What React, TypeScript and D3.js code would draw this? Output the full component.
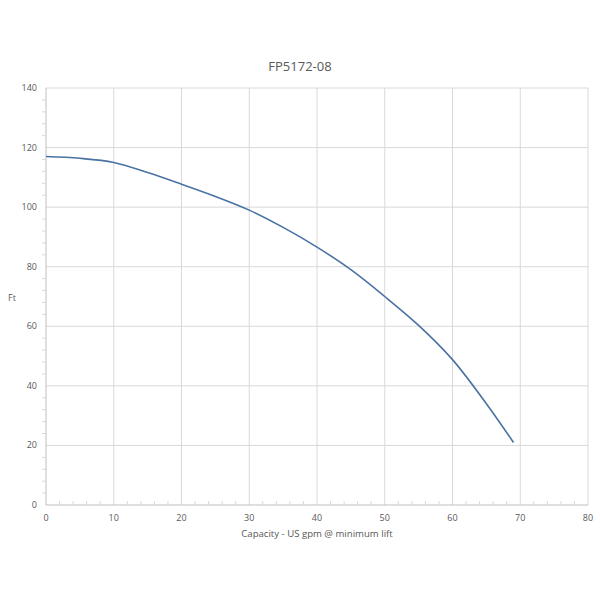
import React from "react";
import * as d3 from "d3";

const capacity = [0, 5, 10, 15, 20, 25, 30, 35, 40, 45, 50, 55, 60, 65, 69];
const head = [117, 116.4, 115, 111.6, 107.7, 103.6, 99, 93.2, 86.6, 79, 70, 60.3, 48.8, 34, 21];
const xTicks = [0, 10, 20, 30, 40, 50, 60, 70, 80];
const yTicks = [0, 20, 40, 60, 80, 100, 120, 140];
const title = "FP5172-08";
const xLabel = "Capacity - US gpm @ minimum lift";
const yLabel = "Ft";

export default function App() {
  const W = 600, H = 600;
  const x = d3.scaleLinear().domain([0, 80]).range([46, 588]);
  const y = d3.scaleLinear().domain([0, 140]).range([505, 88]);
  const pts: [number, number][] = capacity.map((c, i) => [c, head[i]]);
  const line = d3.line<[number, number]>().x(d => x(d[0])).y(d => y(d[1])).curve(d3.curveCatmullRom.alpha(0.5));
  const xMinor = d3.range(0, 80.01, 2).filter(v => v % 10 !== 0);
  const yMinor = d3.range(0, 140.01, 4).filter(v => v % 20 !== 0);
  const font = "'Open Sans', 'Noto Sans', sans-serif";
  return (
    <svg width={W} height={H} style={{ position: "absolute", left: 0, top: 0, background: "#fff" }} fontFamily={font}>
      <rect x={0} y={0} width={W} height={H} fill="#fff" />
      {xTicks.slice(1).map(t => (
        <line key={"gx" + t} x1={x(t)} x2={x(t)} y1={y(0)} y2={y(140)} stroke="#d9d9d9" strokeWidth={1} />
      ))}
      {yTicks.slice(1).map(t => (
        <line key={"gy" + t} x1={x(0)} x2={x(80)} y1={y(t)} y2={y(t)} stroke="#d9d9d9" strokeWidth={1} />
      ))}
      <line x1={x(0)} x2={x(0)} y1={y(0)} y2={y(140)} stroke="#bfbfbf" />
      <line x1={x(0)} x2={x(80)} y1={y(0)} y2={y(0)} stroke="#bfbfbf" />
      {xMinor.map(t => (
        <line key={"mx" + t} x1={x(t)} x2={x(t)} y1={y(0)} y2={y(0) - 4} stroke="#d9d9d9" />
      ))}
      {yMinor.map(t => (
        <line key={"my" + t} x1={x(0) - 4} x2={x(0)} y1={y(t)} y2={y(t)} stroke="#d9d9d9" />
      ))}
      {xTicks.map(t => (
        <text key={"tx" + t} x={x(t)} y={521} textAnchor="middle" fontSize={9} fill="#595959">{t}</text>
      ))}
      {yTicks.map(t => (
        <text key={"ty" + t} x={37} y={y(t) + 3} textAnchor="end" fontSize={9} fill="#595959">{t}</text>
      ))}
      <path d={line(pts) || ""} fill="none" stroke="#4a72a2" strokeWidth={1.6} />
      <text x={300} y={71} textAnchor="middle" fontSize={13} fill="#595959">{title}</text>
      <text x={317} y={537} textAnchor="middle" fontSize={9.6} fill="#595959">{xLabel}</text>
      <text x={12} y={301} textAnchor="middle" fontSize={9} fill="#595959">{yLabel}</text>
    </svg>
  );
}
